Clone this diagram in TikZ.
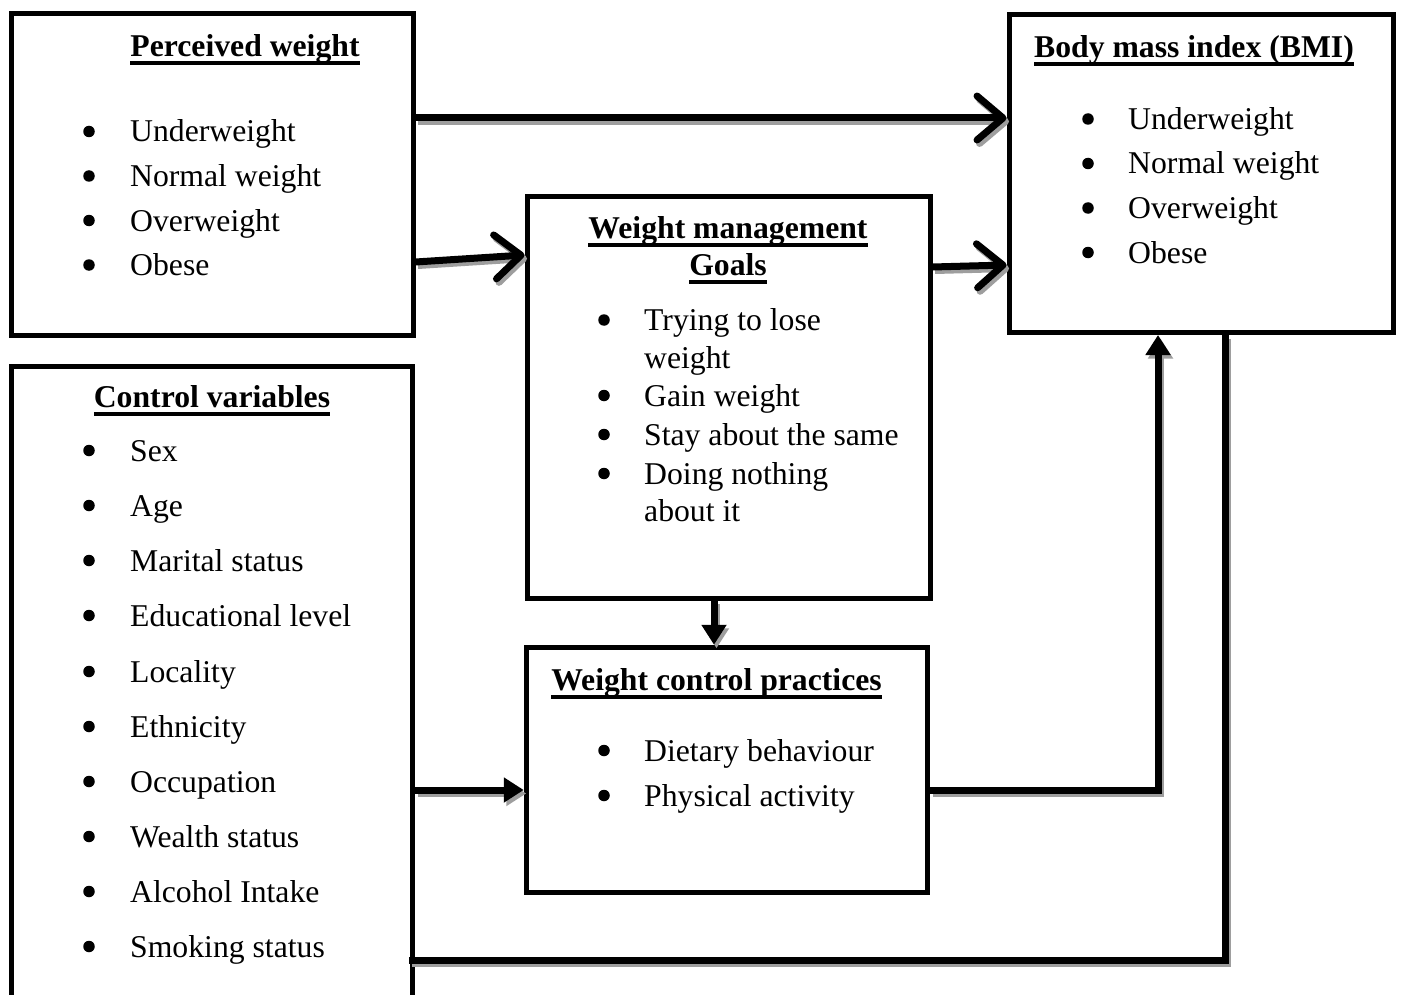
\documentclass[tikz,border=0pt]{standalone}
\usepackage{fontspec}
\setmainfont{Liberation Serif}
\usetikzlibrary{arrows.meta}
\definecolor{shadowgray}{gray}{0.62}
\newcommand\ulx[1]{\setbox0\hbox{#1}\rlap{\rule[-8.5pt]{\wd0}{4pt}}\box0}
\newcommand\shconn[2]{%
  \begin{scope}[transform canvas={shift={(2.5,3.5)}}]\draw[conn,#1,draw=shadowgray]#2;\end{scope}
  \draw[conn,#1]#2;}
\begin{document}
\begin{tikzpicture}[x=1pt,y=-1pt,
  font=\fontsize{31.7pt}{38pt}\selectfont,
  box/.style={draw, line width=5pt, inner sep=0pt},
  txt/.style={anchor=base west, inner sep=0pt},
  ttl/.style={anchor=base, inner sep=0pt, font=\fontsize{31.7pt}{38pt}\selectfont\bfseries},
  bul/.style={circle, fill, inner sep=0pt, minimum size=11.5pt, yshift=10.5pt},
  conn/.style={line width=7pt},
  barb/.style={-{Straight Barb[length=26pt,width=44pt,round]}},
  tri/.style={-{Triangle[length=20pt,width=24pt]}}]
\clip (0,0) rectangle (1402,995);
% boxes
\node[box, minimum width=402pt, minimum height=321pt] (pw) at (212,174.5) {};
\node[box, minimum width=384pt, minimum height=317.5pt] (bmi) at (1201,173.75) {};
\node[box, minimum width=403pt, minimum height=401pt] (goals) at (728.5,397.5) {};
\node[box, minimum width=401.5pt, minimum height=245.5pt] (wcp) at (727,770) {};
\node[box, minimum width=401.5pt, minimum height=644pt] (cv) at (211.75,688) {};
% Perceived weight
\node[ttl] (pwt) at (245,57) {\ulx{Perceived weight}};
\node[bul] (pwb1) at (89,142) {}; \node[txt] (pw1) at (130,142) {Underweight};
\node[bul] (pwb2) at (89,186.5) {}; \node[txt] (pw2) at (130,186.5) {Normal weight};
\node[bul] (pwb3) at (89,231) {}; \node[txt] (pw3) at (130,231) {Overweight};
\node[bul] (pwb4) at (89,275.5) {}; \node[txt] (pw4) at (130,275.5) {Obese};
% BMI
\node[ttl] (bmit) at (1194,58) {\ulx{Body mass index (BMI)}};
\node[bul] (bmb1) at (1088,129.5) {}; \node[txt] (bm1) at (1128,129.5) {Underweight};
\node[bul] (bmb2) at (1088,174) {}; \node[txt] (bm2) at (1128,174) {Normal weight};
\node[bul] (bmb3) at (1088,218.5) {}; \node[txt] (bm3) at (1128,218.5) {Overweight};
\node[bul] (bmb4) at (1088,263) {}; \node[txt] (bm4) at (1128,263) {Obese};
% Goals
\node[ttl] (gt1) at (728,238) {\ulx{Weight management}};
\node[ttl] (gt2) at (728,275) {\ulx{Goals}};
\node[bul] (gb1) at (604,330.5) {}; \node[txt] (g1) at (644,330.5) {Trying to lose};
\node[txt] (g1b) at (644,368) {weight};
\node[bul] (gb2) at (604,406) {}; \node[txt] (g2) at (644,406) {Gain weight};
\node[bul] (gb3) at (604,445) {}; \node[txt] (g3) at (644,445) {Stay about the same};
\node[bul] (gb4) at (604,484) {}; \node[txt] (g4) at (644,484) {Doing nothing};
\node[txt] (g4b) at (644,521) {about it};
% Control variables
\node[ttl] (cvt) at (212,407) {\ulx{Control variables}};
\foreach \i/\t/\y in {1/Sex/461,2/Age/516,3/Marital status/571,4/Educational level/626,5/Locality/682,6/Ethnicity/737,7/Occupation/792,8/Wealth status/847,9/Alcohol Intake/902,10/Smoking status/957}{
  \node[bul] (cvb\i) at (89,\y) {};
  \node[txt] (cv\i) at (130,\y) {\t};
}
% Weight control practices
\node[ttl] (wcpt) at (716.5,690.5) {\ulx{Weight control practices}};
\node[bul] (wb1) at (604,761) {}; \node[txt] (w1) at (644,761) {Dietary behaviour};
\node[bul] (wb2) at (604,806) {}; \node[txt] (w2) at (644,806) {Physical activity};
% helper coordinates
\coordinate (ta) at (700,118);
\coordinate (pa) at (0,262);
\coordinate (pb) at (0,255);
\coordinate (ga) at (0,267);
\coordinate (gb) at (0,265);
\coordinate (dx) at (714,0);
\coordinate (pc) at (1158,790);
\coordinate (bl) at (409,960);
\coordinate (bc) at (1225,960);
% connectors
\shconn{barb}{(pw.east |- ta) -- (bmi.west |- ta)}
\shconn{barb}{(pw.east |- pa) -- (goals.west |- pb)}
\shconn{barb}{(goals.east |- ga) -- (bmi.west |- gb)}
\shconn{tri}{(goals.south -| dx) -- (wcp.north -| dx)}
\shconn{tri}{(cv.east |- pc) -- (wcp.west |- pc)}
\shconn{tri}{(wcp.east |- pc) -- (pc) -- (pc |- bmi.south)}
\shconn{}{(bl) -- (bc) -- (bc |- bmi.south)}
\end{tikzpicture}
\end{document}
